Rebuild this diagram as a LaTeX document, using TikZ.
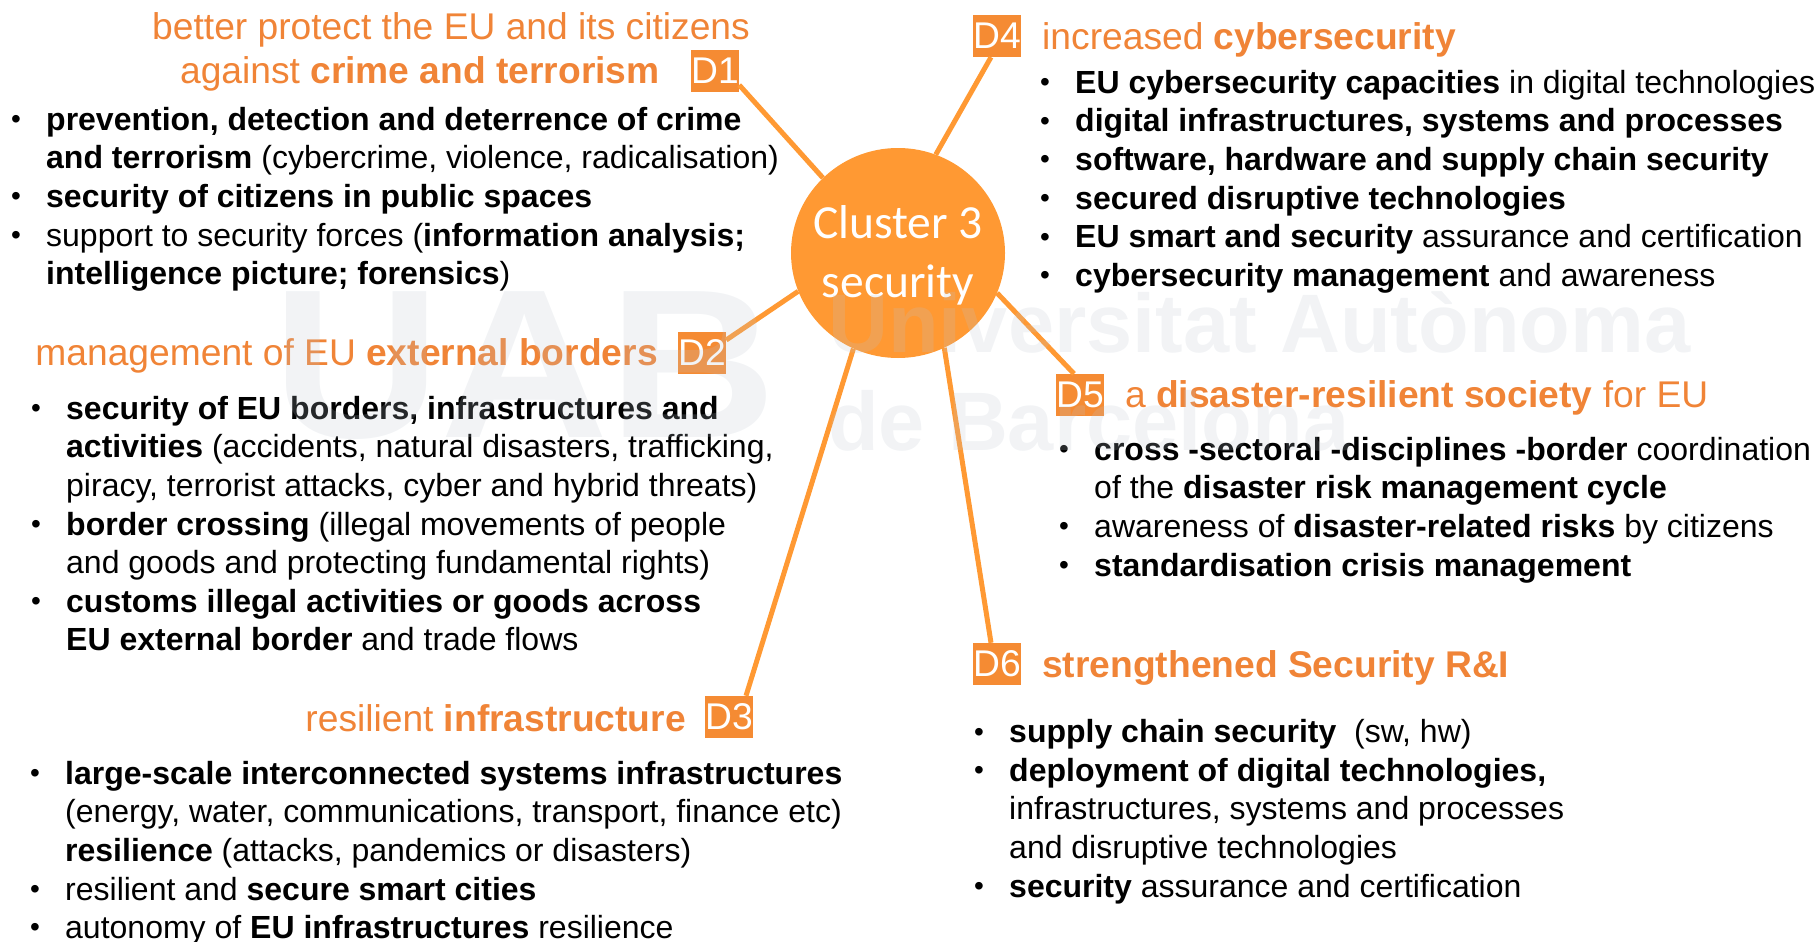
\documentclass[tikz,border=0pt]{standalone}
\usepackage{fontspec}
\setmainfont{Liberation Sans}
\usetikzlibrary{shapes.geometric}
\definecolor{orangeA}{HTML}{FF9933}
\definecolor{headO}{HTML}{F08437}
\definecolor{tagO}{HTML}{F58B33}
\definecolor{wm}{HTML}{BCC4CE}
\newcommand{\fs}{\fontsize{32}{38.6}\selectfont}
\newcommand{\hs}{\fontsize{37.2}{44}\selectfont}
\newcommand{\fst}{\rule{0pt}{24pt}}
\newcommand{\bul}{\fst\hspace{0.8pt}\raisebox{1.5pt}{\fontsize{28}{28}\selectfont •}}
\tikzset{
  body/.style={anchor=north west,inner sep=0pt,align=left,font=\fs,text=black},
  dot/.style={anchor=north west,inner sep=0pt,font=\fs,text=black},
  head/.style={inner sep=0pt,font=\hs,text=headO},
  tag/.style={fill=tagO,text=white,inner sep=0pt,minimum width=48pt,minimum height=42pt,font=\hs},
  spoke/.style={draw=orangeA,line width=5pt},
  hub/.style={ellipse,fill=orangeA,inner sep=0pt},
  wmark/.style={anchor=base west,inner sep=0pt,text=wm,opacity=.2}
}
\begin{document}
\begin{tikzpicture}[x=1pt,y=-1pt]
\useasboundingbox (0,0) rectangle (1820,942);
% tags
\node[tag] (D1) at (715,71) {D1};
\node[tag] (D2) at (702,353) {D2};
\node[tag] (D3) at (729,717) {D3};
\node[tag] (D4) at (997,36) {D4};
\node[tag] (D5) at (1080,395) {D5};
\node[tag] (D6) at (997,664) {D6};
\node[hub,minimum width=214pt,minimum height=210pt] (hub) at (898,253) {};
\draw[spoke] ([yshift=-14pt]D1.east) -- (hub.135);
\draw[spoke] ([yshift=13pt]D2.east) -- (hub.201);
\draw[spoke] ([xshift=17pt]D3.north) -- (hub.245);
\draw[spoke] ([xshift=-6pt]D4.south) -- (hub.69);
\draw[spoke] ([xshift=-6pt]D5.north) -- (hub.-22);
\draw[spoke] ([xshift=-6pt]D6.north) -- (hub.-64);
\node[inner sep=0pt,text=white,align=center,font=\fontsize{47.5}{59}\selectfont\fontspec{Carlito}] (hubt) at (898,255) {Cluster 3\\security};
% headings
\node[head,anchor=base] (h1a) at (451,40) {better protect the EU and its citizens};
\node[head,anchor=base east] (h1b) at (660,83.5) {against \textbf{crime and terrorism}};
\node[head,anchor=base east] (h2) at (658,365.5) {management of EU \textbf{external borders}};
\node[head,anchor=base east] (h3) at (686,731) {resilient \textbf{infrastructure}};
\node[head,anchor=base west] (h4) at (1042,50) {increased \textbf{cybersecurity}};
\node[head,anchor=base west] (h5) at (1125,407.5) {a \textbf{disaster-resilient society} for EU};
\node[head,anchor=base west] (h6) at (1042,677) {\textbf{strengthened Security R\&I}};
% D1 body
\node[body] (b1) at (46,106) {\fst\textbf{prevention, detection and deterrence of crime}\\\textbf{and terrorism} (cybercrime, violence, radicalisation)\\\textbf{security of citizens in public spaces}\\support to security forces (\textbf{information analysis;}\\\textbf{intelligence picture; forensics})};
\node[dot] (d1a) at (10,106) {\bul};
\node[dot] (d1b) at (10,183) {\bul};
\node[dot] (d1c) at (10,222) {\bul};
% D2 body
\node[body] (b2) at (66,395) {\fst\textbf{security of EU borders, infrastructures and}\\\textbf{activities} (accidents, natural disasters, trafficking,\\piracy, terrorist attacks, cyber and hybrid threats)\\\textbf{border crossing} (illegal movements of people\\and goods and protecting fundamental rights)\\\textbf{customs illegal activities or goods across}\\\textbf{EU external border} and trade flows};
\node[dot] (d2a) at (30,395) {\bul};
\node[dot] (d2b) at (30,511) {\bul};
\node[dot] (d2c) at (30,588) {\bul};
% D3 body
\node[body] (b3) at (65,760) {\fst\textbf{large-scale interconnected systems infrastructures}\\(energy, water, communications, transport, finance etc)\\\textbf{resilience} (attacks, pandemics or disasters)\\resilient and \textbf{secure smart cities}\\autonomy of \textbf{EU infrastructures} resilience};
\node[dot] (d3a) at (29,760) {\bul};
\node[dot] (d3b) at (29,876) {\bul};
\node[dot] (d3c) at (29,914) {\bul};
% D4 body
\node[body] (b4) at (1075,69) {\fst\textbf{EU cybersecurity capacities} in digital technologies\\\textbf{digital infrastructures, systems and processes}\\\textbf{software, hardware and supply chain security}\\\textbf{secured disruptive technologies}\\\textbf{EU smart and security} assurance and certification\\\textbf{cybersecurity management} and awareness};
\node[dot] (d4a) at (1039,69) {\bul};
\node[dot] (d4b) at (1039,107.6) {\bul};
\node[dot] (d4c) at (1039,146.2) {\bul};
\node[dot] (d4d) at (1039,184.8) {\bul};
\node[dot] (d4e) at (1039,223.4) {\bul};
\node[dot] (d4f) at (1039,262) {\bul};
% D5 body
\node[body] (b5) at (1094,436) {\fst\textbf{cross -sectoral -disciplines -border} coordination\\of the \textbf{disaster risk management cycle}\\awareness of \textbf{disaster-related risks} by citizens\\\textbf{standardisation crisis management}};
\node[dot] (d5a) at (1058,436) {\bul};
\node[dot] (d5b) at (1058,513) {\bul};
\node[dot] (d5c) at (1058,552) {\bul};
% D6 body
\node[body] (b6) at (1009,718.5) {\fst\textbf{supply chain security}\ \ (sw, hw)\\\textbf{deployment of digital technologies,}\\infrastructures, systems and processes\\and disruptive technologies\\\textbf{security} assurance and certification};
\node[dot] (d6a) at (973,718.5) {\bul};
\node[dot] (d6b) at (973,757) {\bul};
\node[dot] (d6c) at (973,873) {\bul};
% watermark
\node[wmark,xscale=1.1,font=\fontsize{212}{212}\selectfont\bfseries] (w1) at (272,437) {UAB};
\node[wmark,font=\fontsize{83}{83}\selectfont\bfseries] (w2) at (828,352) {Universitat Autònoma};
\node[wmark,font=\fontsize{83}{83}\selectfont\bfseries] (w3) at (828,450) {de Barcelona};
\end{tikzpicture}
\end{document}
